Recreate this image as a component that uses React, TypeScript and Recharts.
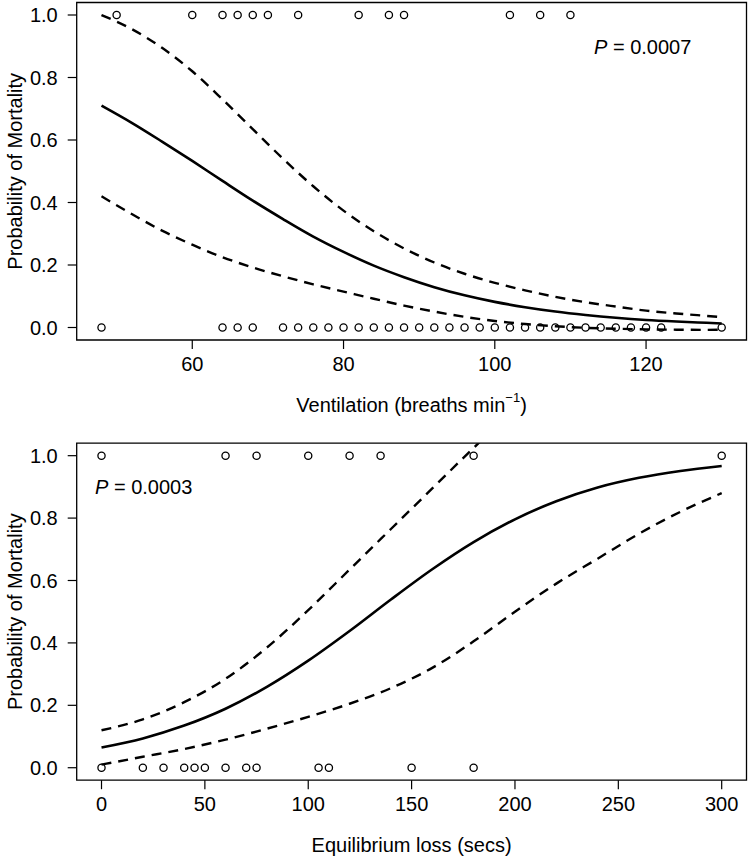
import React from "react";
import { ComposedChart, Line, Scatter, XAxis, YAxis, ReferenceArea, Label } from "recharts";

// Ventilation panel: observed outcomes (1 = died, 0 = survived)
const ventDied = [50, 60, 64, 66, 68, 70, 74, 82, 86, 88, 102, 106, 110];
const ventSurvived = [
  48, 64, 66, 68, 72, 74, 76, 78, 80, 82, 84, 86, 88, 90, 92, 94, 96, 98, 100, 102, 104, 106, 108, 110, 112,
  114, 116, 118, 120, 122, 130,
];
// fitted logistic curve and confidence band
const ventX = [48, 52, 56, 60, 64, 68, 72, 76, 80, 84, 88, 92, 96, 100, 104, 108, 112, 116, 120, 124, 128, 130];
const ventFit = [0.71, 0.655, 0.595, 0.533, 0.469, 0.406, 0.347, 0.291, 0.242, 0.198, 0.161, 0.129, 0.103, 0.082, 0.065, 0.051, 0.04, 0.031, 0.024, 0.019, 0.015, 0.013];
const ventUpper = [1.0, 0.955, 0.895, 0.82, 0.73, 0.635, 0.54, 0.452, 0.374, 0.308, 0.253, 0.208, 0.172, 0.143, 0.119, 0.098, 0.081, 0.067, 0.054, 0.045, 0.037, 0.033];
const ventLower = [0.42, 0.363, 0.31, 0.265, 0.225, 0.192, 0.164, 0.138, 0.115, 0.092, 0.07, 0.051, 0.034, 0.021, 0.011, 0.004, -0.001, -0.004, -0.006, -0.007, -0.0075, -0.007];
const ventTicks = [60, 80, 100, 120];

// Equilibrium loss panel
const eqDied = [0, 60, 75, 100, 120, 135, 180, 300];
const eqSurvived = [0, 20, 30, 40, 45, 50, 60, 70, 75, 105, 110, 150, 180];
const eqX = [0, 20, 40, 60, 80, 100, 120, 140, 160, 180, 200, 220, 240, 260, 280, 300];
const eqFit = [0.065, 0.094, 0.135, 0.189, 0.259, 0.343, 0.438, 0.539, 0.636, 0.723, 0.796, 0.854, 0.898, 0.929, 0.951, 0.967];
const eqUpper = [0.12, 0.155, 0.21, 0.285, 0.385, 0.505, 0.635, 0.765, 0.895, 1.025, 1.15, 1.25, 1.3, 1.32, 1.33, 1.33];
const eqLower = [0.01, 0.035, 0.06, 0.09, 0.125, 0.163, 0.205, 0.255, 0.32, 0.405, 0.5, 0.59, 0.67, 0.75, 0.82, 0.88];
const eqTicks = [0, 50, 100, 150, 200, 250, 300];

const probTicks = [0, 0.2, 0.4, 0.6, 0.8, 1.0];

const FONT = "'Liberation Sans', Arial, Helvetica, sans-serif";
const FS = 20;

const toPoints = (died: number[], survived: number[]) => [
  ...died.map((x) => ({ x, y: 1 })),
  ...survived.map((x) => ({ x, y: 0 })),
];

const toRows = (xs: number[], fit: number[], upper: number[], lower: number[]) =>
  xs.map((x, i) => ({ x, fit: fit[i], upper: upper[i], lower: lower[i] }));

const OpenCircle = (props: any) => (
  <circle cx={props.cx} cy={props.cy} r={3.6} fill="none" stroke="#000" strokeWidth={1.3} />
);

interface PanelProps {
  rows: { x: number; fit: number; upper: number; lower: number }[];
  points: { x: number; y: number }[];
  xDomain: [number, number];
  xTicks: number[];
  height: number;
  top: number;
  xAxisHeight: number;
  xTitle: React.ReactNode;
  pText: string;
  pX: number;
}

function Panel({ rows, points, xDomain, xTicks, height, top, xAxisHeight, xTitle, pText, pX }: PanelProps) {
  const plotTop = top;
  const plotBottom = height - xAxisHeight;
  const midY = (plotTop + plotBottom) / 2;

  const renderYTitle = () => (
    <text
      x={15}
      y={midY}
      transform={`rotate(-90, 15, ${midY})`}
      textAnchor="middle"
      dominantBaseline="central"
      fontFamily={FONT}
      fontSize={FS}
      fill="#000"
    >
      Probability of Mortality
    </text>
  );

  const renderXTitle = () => (
    <g>
      <text
        x={411.6}
        y={plotBottom + 65}
        textAnchor="middle"
        dominantBaseline="central"
        fontFamily={FONT}
        fontSize={FS}
        fill="#000"
      >
        {xTitle}
      </text>
      <text x={pX} y={54} fontFamily={FONT} fontSize={FS} fill="#000">
        <tspan fontStyle="italic">P</tspan>
        <tspan> = {pText}</tspan>
      </text>
    </g>
  );

  return (
    <ComposedChart
      width={750}
      height={height}
      data={rows}
      margin={{ top, right: 3.5, bottom: 0, left: 0 }}
    >
      <XAxis
        type="number"
        dataKey="x"
        domain={xDomain}
        ticks={xTicks}
        allowDataOverflow
        axisLine={false}
        tickSize={9}
        tickMargin={8}
        tickLine={{ stroke: "#000", strokeWidth: 1.2 }}
        tick={{ fill: "#000", fontSize: FS, fontFamily: FONT }}
        height={xAxisHeight}
      >
        <Label content={renderXTitle} />
      </XAxis>
      <YAxis
        type="number"
        dataKey="y"
        domain={[-0.04, 1.04]}
        ticks={probTicks}
        allowDataOverflow
        axisLine={false}
        width={76.7}
        tickSize={9}
        tickMargin={10}
        tickFormatter={(v: number) => v.toFixed(1)}
        tickLine={{ stroke: "#000", strokeWidth: 1.2 }}
        tick={{ fill: "#000", fontSize: FS, fontFamily: FONT }}
      >
        <Label content={renderYTitle} />
      </YAxis>
      <ReferenceArea
        x1={xDomain[0]}
        x2={xDomain[1]}
        y1={-0.04}
        y2={1.04}
        fill="none"
        stroke="#000"
        strokeWidth={1.3}
        ifOverflow="visible"
      />
      <Line type="monotone" dataKey="upper" stroke="#000" strokeWidth={2.4} strokeDasharray="10 7" dot={false} isAnimationActive={false} />
      <Line type="monotone" dataKey="lower" stroke="#000" strokeWidth={2.4} strokeDasharray="10 7" dot={false} isAnimationActive={false} />
      <Line type="monotone" dataKey="fit" stroke="#000" strokeWidth={2.6} dot={false} isAnimationActive={false} />
      <Scatter data={points} shape={OpenCircle} isAnimationActive={false} />
    </ComposedChart>
  );
}

export default function App() {
  return (
    <div style={{ position: "absolute", left: 0, top: 0, width: 750, height: 857, background: "#fff" }}>
      <div style={{ position: "absolute", left: 0, top: 0 }}>
        <Panel
          rows={toRows(ventX, ventFit, ventUpper, ventLower)}
          points={toPoints(ventDied, ventSurvived)}
          xDomain={[44.72, 133.28]}
          xTicks={ventTicks}
          height={430}
          top={2.5}
          xAxisHeight={90}
          xTitle={
            <>
              <tspan>Ventilation (breaths min</tspan>
              <tspan fontSize={13} dy={-8}>−1</tspan>
              <tspan dy={8}>)</tspan>
            </>
          }
          pText="0.0007"
          pX={594}
        />
      </div>
      <div style={{ position: "absolute", left: 0, top: 440 }}>
        <Panel
          rows={toRows(eqX, eqFit, eqUpper, eqLower)}
          points={toPoints(eqDied, eqSurvived)}
          xDomain={[-12, 312]}
          xTicks={eqTicks}
          height={417}
          top={3.2}
          xAxisHeight={76.8}
          xTitle="Equilibrium loss (secs)"
          pText="0.0003"
          pX={95}
        />
      </div>
    </div>
  );
}
